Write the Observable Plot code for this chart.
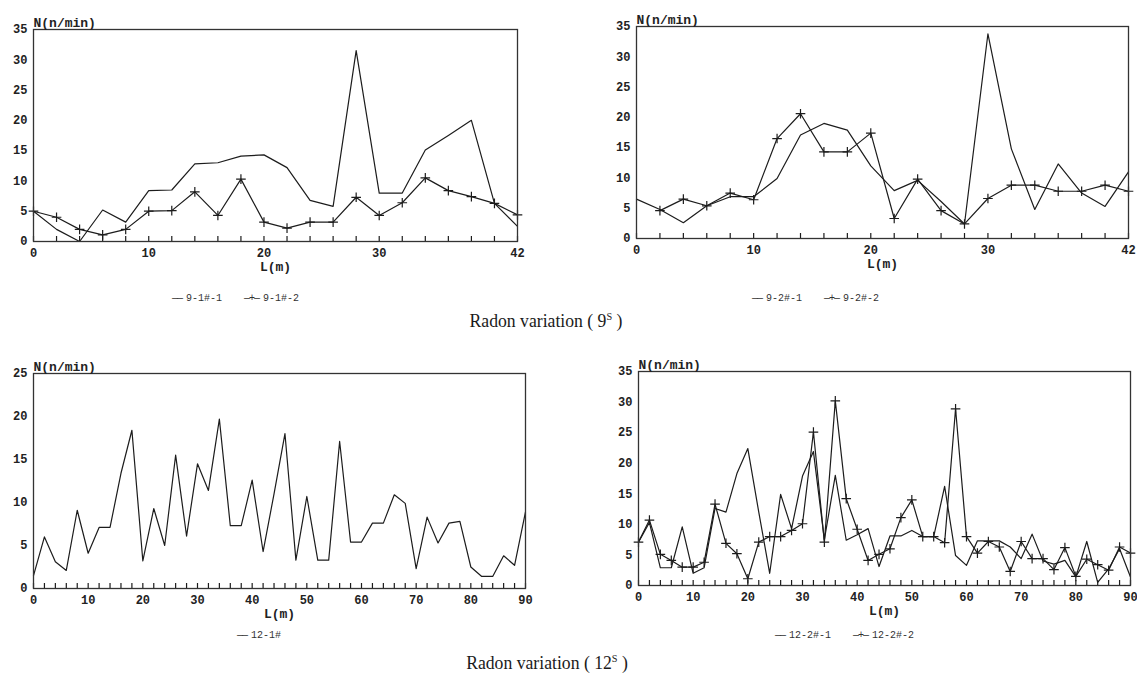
<!DOCTYPE html>
<html>
<head>
<meta charset="utf-8">
<script src="https://cdn.jsdelivr.net/npm/d3@7"></script>
<script src="https://cdn.jsdelivr.net/npm/@observablehq/plot@0.6"></script>
<style>
  body { margin: 0; background: #fff; }
  #page { position: relative; width: 1137px; height: 687px; background: #fff; overflow: hidden; }
  .panel { position: absolute; }
  .legend { position: absolute; font-family: "Liberation Mono", monospace; font-size: 10px; color: #333; white-space: nowrap; }
  .legend span.sym { letter-spacing: -1px; margin-right: 4px; }
  .legend span.item { margin-right: 22px; }
  .title { position: absolute; font-family: "Liberation Serif", serif; font-size: 19px; color: #1a1a1a; white-space: nowrap; transform: translateX(-50%) scaleX(0.93); }
  .title sup { font-size: 11px; }
</style>
</head>
<body>
<div id="page"></div>
<script>
// ---------- Data ----------
// Top-left (9-1#)
const p1X = [0,2,4,6,8,10,12,14,16,18,20,22,24,26,28,30,32,34,36,38,40,42];
const p1S1 = [5,2,0,5.2,3.2,8.4,8.5,12.8,13,14.1,14.3,12.2,6.8,5.8,31.5,8.0,8.0,15.1,17.5,20,6.3,2.5];
const p1S2 = [5,4,2,1.1,2,5,5.1,8.2,4.3,10.3,3.2,2.2,3.2,3.2,7.3,4.3,6.4,10.5,8.4,7.4,6.3,4.4];
const p1XLabels = [0,10,20,30,42];
const p1YLabels = [0,5,10,15,20,25,30,35];

// Top-right (9-2#)
const p2X1 = [0,2,4,6,8,10,12,14,16,18,20,22,24,26,28,30,32,34,36,38,40,42];
const p2S1 = [6.5,4.8,2.6,5.4,6.9,6.9,9.9,17.1,19.0,17.9,12.0,7.9,9.6,6.1,2.4,33.8,14.8,4.8,12.3,7.5,5.3,11.0];
const p2X2 = [2,4,6,8,10,12,14,16,18,20,22,24,26,28,30,32,34,36,38,40,42];
const p2S2 = [4.6,6.5,5.4,7.5,6.4,16.5,20.6,14.3,14.3,17.4,3.3,9.8,4.6,2.4,6.6,8.8,8.8,7.8,7.8,8.8,7.8];
const p2XLabels = [0,10,20,30,42];
const p2YLabels = [0,5,10,15,20,25,30,35];

// Bottom-left (12-1#)
const p3X = [0,2,4,6,8,10,12,14,16,18,20,22,24,26,28,30,32,34,36,38,40,42,44,46,48,50,52,54,56,58,60,62,64,66,68,70,72,74,76,78,80,82,84,86,88,90];
const p3S1 = [1.5,6.0,3.1,2.1,9.1,4.1,7.1,7.1,13.4,18.4,3.2,9.3,5.0,15.5,6.1,14.5,11.4,19.7,7.3,7.3,12.6,4.3,11.0,18.0,3.3,10.7,3.3,3.3,17.1,5.4,5.4,7.6,7.6,10.9,9.9,2.3,8.3,5.3,7.6,7.8,2.5,1.4,1.4,3.8,2.7,8.9];
const p3XLabels = [0,10,20,30,40,50,60,70,80,90];
const p3YLabels = [0,5,10,15,20,25];

// Bottom-right (12-2#)
const p4X = [0,2,4,6,8,10,12,14,16,18,20,22,24,26,28,30,32,34,36,38,40,42,44,46,48,50,52,54,56,58,60,62,64,66,68,70,72,74,76,78,80,82,84,86,88,90];
const p4S1 = [7.1,10.3,2.9,2.9,9.6,2.0,2.9,12.6,12.0,18.3,22.4,12.0,2.0,14.9,9.3,17.9,21.9,7.5,18.0,7.4,8.3,9.3,3.1,8.1,8.1,9.0,8.0,8.0,16.2,4.9,3.3,7.3,7.3,7.3,6.3,4.4,8.4,4.0,3.5,4.1,1.4,7.2,0.5,2.7,6.0,1.4];
const p4S2 = [7.1,10.7,5.1,4.1,3.0,3.0,3.8,13.3,6.9,5.2,1.1,7.1,8.0,8.0,9.0,10.1,25.1,7.1,30.2,14.2,9.2,4.1,5.1,6.0,11.1,14.0,8.0,8.0,7.0,28.9,8.0,5.3,7.2,6.3,2.3,7.2,4.4,4.4,2.6,6.2,1.5,4.3,3.4,2.5,6.3,5.3];
const p4XLabels = [0,10,20,30,40,50,60,70,80,90];
const p4YLabels = [0,5,10,15,20,25,30,35];

const legendTL = ["9-1#-1","9-1#-2"];
const legendTR = ["9-2#-1","9-2#-2"];
const legendBL = ["12-1#"];
const legendBR = ["12-2#-1","12-2#-2"];
const titles = ["Radon variation ( 9", "Radon variation ( 12"];

// ---------- Drawing ----------
const page = document.getElementById("page");
const INK = "#1c1c1c";

function panel({left, top, width, height, frame, xDomain, yDomain, xLabels, yLabels, tickX, lines, plusSeries}) {
  const mL = frame.x1 - left, mR = left + width - frame.x2;
  const mT = frame.y1 - top, mB = top + height - frame.y2;
  const fh = frame.y2 - frame.y1;
  const marks = [
    Plot.ruleX(tickX, {x: d => d, insetTop: fh - 5, stroke: INK, strokeWidth: 1.2}),
    Plot.axisY({ticks: yLabels, tickSize: 0, tickPadding: 6, label: null, fontSize: 12, fontWeight: "bold", fill: "#222"}),
    Plot.axisX({ticks: xLabels, tickSize: 0, tickPadding: 7, label: null, tickFormat: d => String(d), fontSize: 12, fontWeight: "bold", fill: "#222"}),
    ...lines.map(s => Plot.line(s.x.map((x, i) => ({x, y: s.y[i]})), {x: "x", y: "y", stroke: INK, strokeWidth: 1.2})),
    ...plusSeries.map(s => Plot.dot(s.x.map((x, i) => ({x, y: s.y[i]})), {x: "x", y: "y", symbol: "plus", r: 3.2, stroke: INK, strokeWidth: 1.2})),
    Plot.frame({stroke: "#333", strokeWidth: 1.3}),
    Plot.text(["N(n/min)"], {frameAnchor: "top-left", textAnchor: "start", dy: -12, dx: 0, fontSize: 13, fontWeight: "bold", fill: "#222"}),
    Plot.text(["L(m)"], {frameAnchor: "bottom", dy: 29, fontSize: 13, fontWeight: "bold", fill: "#222"})
  ];
  const svg = Plot.plot({
    width, height,
    marginLeft: mL, marginRight: mR, marginTop: mT, marginBottom: mB,
    x: {domain: xDomain},
    y: {domain: yDomain},
    style: {fontFamily: "'Liberation Mono', 'DejaVu Sans Mono', monospace", background: "transparent", overflow: "visible"},
    marks
  });
  svg.classList.add("panel");
  svg.style.left = left + "px";
  svg.style.top = top + "px";
  page.appendChild(svg);
}

panel({
  left: 0, top: 0, width: 560, height: 285,
  frame: {x1: 33, x2: 517, y1: 29, y2: 241},
  xDomain: [0, 42], yDomain: [0, 35], xLabels: p1XLabels, yLabels: p1YLabels, tickX: p1X,
  lines: [{x: p1X, y: p1S1}, {x: p1X, y: p1S2}],
  plusSeries: [{x: p1X, y: p1S2}]
});
panel({
  left: 570, top: 0, width: 567, height: 285,
  frame: {x1: 636, x2: 1128, y1: 26, y2: 238},
  xDomain: [0, 42], yDomain: [0, 35], xLabels: p2XLabels, yLabels: p2YLabels, tickX: p2X1,
  lines: [{x: p2X1, y: p2S1}, {x: p2X2, y: p2S2}],
  plusSeries: [{x: p2X2, y: p2S2}]
});
panel({
  left: 0, top: 345, width: 560, height: 285,
  frame: {x1: 33, x2: 525, y1: 373, y2: 588},
  xDomain: [0, 90], yDomain: [0, 25], xLabels: p3XLabels, yLabels: p3YLabels, tickX: p3X,
  lines: [{x: p3X, y: p3S1}],
  plusSeries: []
});
panel({
  left: 570, top: 345, width: 567, height: 285,
  frame: {x1: 638, x2: 1130, y1: 371, y2: 585},
  xDomain: [0, 90], yDomain: [0, 35], xLabels: p4XLabels, yLabels: p4YLabels, tickX: p4X,
  lines: [{x: p4X, y: p4S1}, {x: p4X, y: p4S2}],
  plusSeries: [{x: p4X, y: p4S2}]
});

// ---------- Legends & titles ----------
function legend(items, left, top) {
  const d = document.createElement("div");
  d.className = "legend";
  d.style.left = left + "px";
  d.style.top = top + "px";
  items.forEach((t, i) => {
    const s = document.createElement("span");
    s.className = "item";
    const sym = document.createElement("span");
    sym.className = "sym";
    sym.textContent = i === 1 ? "\u2014+\u2014" : "\u2014\u2014";
    s.appendChild(sym);
    s.appendChild(document.createTextNode(t));
    d.appendChild(s);
  });
  page.appendChild(d);
}
legend(legendTL, 172, 293);
legend(legendTR, 752, 293);
legend(legendBL, 237, 630);
legend(legendBR, 775, 630);

function title(txt, cx, top) {
  const d = document.createElement("div");
  d.className = "title";
  d.style.left = cx + "px";
  d.style.top = top + "px";
  d.innerHTML = txt + "<sup>S</sup>&nbsp;)";
  page.appendChild(d);
}
title(titles[0], 546, 310);
title(titles[1], 547, 652);
</script>
</body>
</html>
